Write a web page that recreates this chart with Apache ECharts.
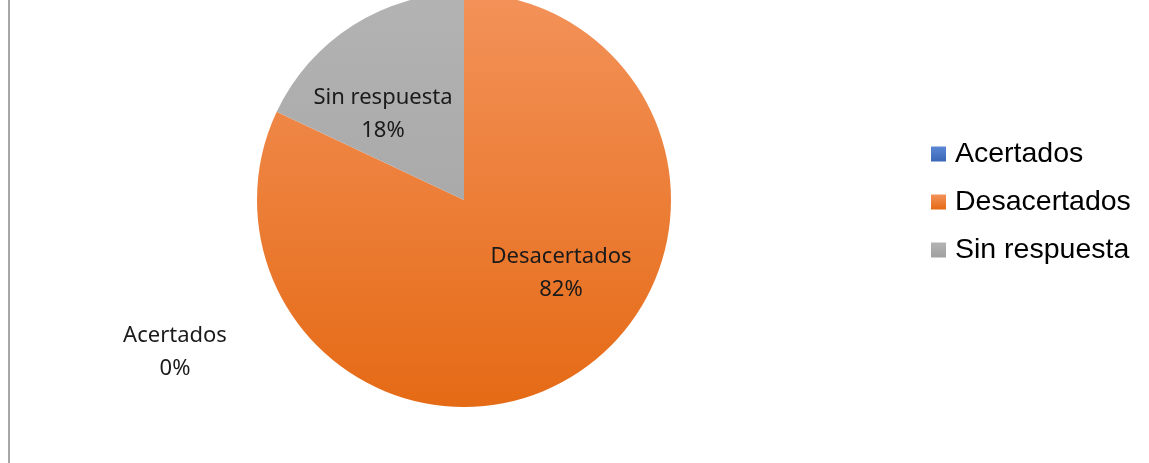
<!DOCTYPE html>
<html><head><meta charset="utf-8">
<script src="https://cdn.jsdelivr.net/npm/echarts@6/dist/echarts.min.js"></script>
<style>html,body{margin:0;padding:0;background:#fff}#c{width:1149px;height:463px}</style>
</head><body><div id="c"></div>
<script>
var categories = ['Acertados', 'Desacertados', 'Sin respuesta'];
var values = [0, 82, 18];
var percentLabels = ['0%', '82%', '18%'];

var colorsTop = ['#5B87D4', '#F3925A', '#B3B3B3'];
var colorsBottom = ['#3A66B8', '#E56A15', '#A0A0A0'];
var labelPos = [[175, 352], [561, 273], [383, 114]];

var chart = echarts.init(document.getElementById('c'));
function grad(i, y0, y1) {
  return {type: 'linear', x: 0, y: y0, x2: 0, y2: y1, global: true,
    colorStops: [{offset: 0, color: colorsTop[i]}, {offset: 1, color: colorsBottom[i]}]};
}
chart.setOption({
  animation: false,
  legend: {
    orient: 'vertical', left: 926, top: 134, itemWidth: 15, itemHeight: 15, itemGap: 18,
    icon: 'rect',
    textStyle: {fontFamily: 'Liberation Sans', fontSize: 28.5, lineHeight: 30, color: '#000', padding: [0, 0, 0, 4]},
    data: categories.map(function (c, i) {
      return {name: c, itemStyle: {color: {type: 'linear', x: 0, y: 0, x2: 0, y2: 1,
        colorStops: [{offset: 0, color: colorsTop[i]}, {offset: 1, color: colorsBottom[i]}]}}};
    })
  },
  graphic: [{type: 'line', shape: {x1: 9, y1: 0, x2: 9, y2: 463}, style: {stroke: '#A6A6A6', lineWidth: 2}}],
  series: [{
    type: 'pie', center: [464, 200], radius: 207, startAngle: 90, clockwise: true,
    avoidLabelOverlap: false,
    label: {
      show: true, position: 'inside',
      formatter: function (p) { return p.name + '\n' + percentLabels[p.dataIndex]; },
      fontFamily: 'Noto Sans', fontSize: 22, lineHeight: 33, color: '#1a1a1a'
    },
    labelLine: {show: false},
    labelLayout: function (p) {
      var pos = labelPos[p.dataIndex];
      return {x: pos[0], y: pos[1], align: 'center', verticalAlign: 'middle'};
    },
    itemStyle: {borderWidth: 0},
    emphasis: {disabled: true},
    data: categories.map(function (c, i) {
      return {name: c, value: values[i], itemStyle: {color: grad(i, -7, 407)}};
    })
  }]
});
</script></body></html>
